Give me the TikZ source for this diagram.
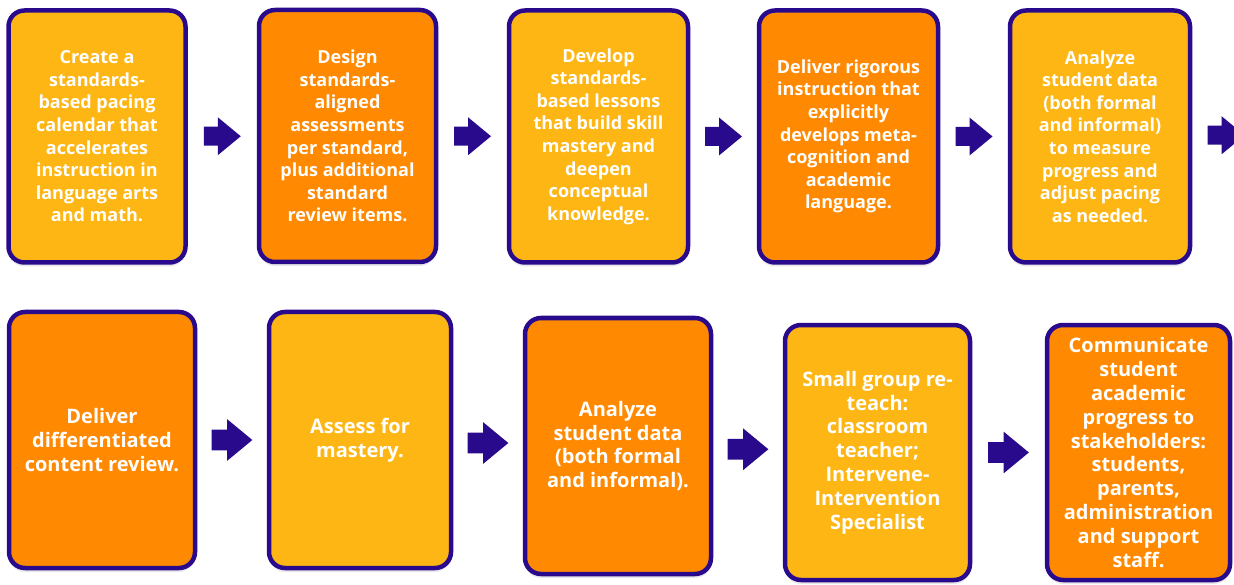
\documentclass[tikz,border=0pt]{standalone}
\usepackage{fontspec}
\setmainfont{Open Sans}
\usetikzlibrary{calc,shadows}

\definecolor{stepamber}{RGB}{253,182,20}
\definecolor{steporange}{RGB}{255,137,0}
\definecolor{stepnavy}{RGB}{42,10,140}

% block arrow centred between two cards, #1 = size factor
\newcommand{\blockarrow}[3][1]{%
  \begin{scope}[shift={($(#2.east)!0.5!(#3.west)$)},scale=#1]
    \fill[stepnavy] (-18.5,-9.5) -- (-4.5,-9.5) -- (-4.5,-19) -- (18.5,0)
      -- (-4.5,19) -- (-4.5,9.5) -- (-18.5,9.5) -- cycle;
  \end{scope}}

\begin{document}
\begin{tikzpicture}[x=1pt,y=-1pt,
    card/.style={draw=stepnavy,line width=4.5pt,rounded corners=16pt,
      text=white,align=center,inner sep=0pt,
      drop shadow={shadow xshift=0pt,shadow yshift=-4pt,opacity=0.18}},
    light/.style={card,fill=stepamber},
    dark/.style={card,fill=steporange},
    toprow/.style={minimum width=177pt,minimum height=252pt,
      font=\fontsize{18}{22.6}\selectfont\bfseries},
    lowrow/.style={minimum width=186pt,minimum height=256pt,
      font=\fontsize{20}{23.8}\selectfont\bfseries}]
  \useasboundingbox (0,0) rectangle (1234,585);
  \clip (0,0) rectangle (1234,585);

  % first row
  \node[light,toprow] (b1) at (97,136.5)
    {Create a\\standards-\\based pacing\\calendar that\\accelerates\\instruction in\\language arts\\and math.};
  \node[dark,toprow] (b2) at (347.5,136)
    {Design\\standards-\\aligned\\assessments\\per standard,\\plus additional\\standard\\review items.};
  \node[light,toprow,minimum width=179pt] (b3) at (598.5,136.5)
    {Develop\\standards-\\based lessons\\that build skill\\mastery and\\deepen\\conceptual\\knowledge.};
  \node[dark,toprow,minimum width=179pt] (b4) at (848.5,136.5)
    {Deliver rigorous\\instruction that\\explicitly\\develops meta-\\cognition and\\academic\\language.};
  \node[light,toprow,minimum width=180pt] (b5) at (1100,136.5)
    {Analyze\\student data\\(both formal\\and informal)\\to measure\\progress and\\adjust pacing\\as needed.};
  \coordinate (next) at (1260,134);

  % second row
  \node[dark,lowrow] (b6) at (102,440)
    {Deliver\\differentiated\\content review.};
  \node[light,lowrow,minimum width=182pt] (b7) at (360,440)
    {Assess for\\mastery.};
  \node[dark,lowrow] (b8) at (618,446)
    {Analyze\\student data\\(both formal\\and informal).};
  \node[light,lowrow,minimum width=185pt,minimum height=255pt] (b9) at (877.5,452.5)
    {Small group re-\\teach:\\classroom\\teacher;\\Intervene-\\Intervention\\Specialist};
  \node[dark,lowrow,minimum width=183pt,minimum height=255pt] (b10) at (1138.5,452.5)
    {Communicate\\student\\academic\\progress to\\stakeholders:\\students,\\parents,\\administration\\and support\\staff.};

  \blockarrow{b1}{b2}
  \blockarrow{b2}{b3}
  \blockarrow{b3}{b4}
  \blockarrow{b4}{b5}
  \blockarrow{b5}{next}
  \blockarrow[1.1]{b6}{b7}
  \blockarrow[1.1]{b7}{b8}
  \blockarrow[1.1]{b8}{b9}
  \blockarrow[1.1]{b9}{b10}
\end{tikzpicture}
\end{document}
